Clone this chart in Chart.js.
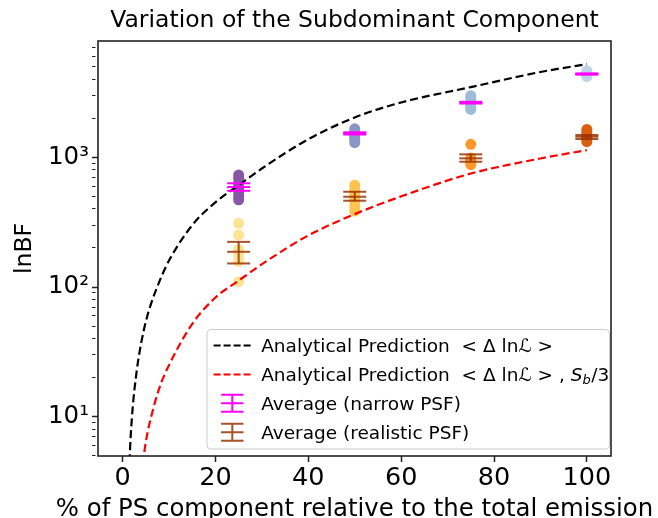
<!DOCTYPE html>
<html>
<head>
<meta charset="utf-8">
<script src="https://cdn.jsdelivr.net/npm/chart.js@4.4.0/dist/chart.umd.min.js"></script>
<style>
  html, body { margin: 0; padding: 0; background: #fff; }
  #wrap { width: 658px; height: 518px; }
</style>
</head>
<body>
<div id="wrap"><canvas id="lnbfChart" width="658" height="518"></canvas></div>
<script>
// values
const curveX = [1.2, 1.5, 2, 3, 4, 5, 6, 8, 10, 15, 20, 25, 30, 40, 50, 60, 75, 90, 100];
const predFull = [1.9, 4.6, 9.8, 22, 37, 54, 72, 112, 160, 300, 450, 610, 820, 1380, 2030, 2650, 3480, 4550, 5240];
const predThird = [null, null, null, null, 3.5, 6.4, 9.5, 17, 25, 52, 83, 112, 150, 250, 365, 500, 750, 980, 1137];

const fractions = [25, 50, 75, 100];
const narrowRuns = [
  [730, 690, 640, 600, 570, 540, 500, 470],
  [1660, 1600, 1540, 1500, 1450, 1380, 1300],
  [2990, 2850, 2700, 2600, 2500, 2400, 2340],
  [4650, 4500, 4400, 4300, 4200]
];
const realisticRuns = [
  [310, 252, 195, 175, 158, 110],
  [610, 560, 520, 490, 460, 420, 385],
  [1260, 990, 950, 910, 880],
  [1640, 1560, 1480, 1420, 1380, 1320]
];
const narrowMean = [590, 1530, 2640, 4390];
const narrowLow = [552, 1500, 2600, 4340];
const narrowHigh = [631, 1560, 2680, 4440];
const realMean = [187, 497, 982, 1442];
const realLow = [152, 463, 925, 1384];
const realHigh = [223, 543, 1055, 1486];

const xTicks = [0, 20, 40, 60, 80, 100];
const yTickValues = [10, 100, 1000];
const yTickText = ['10\u00b9', '10\u00b2', '10\u00b3'];

const chartTitle = 'Variation of the Subdominant Component';
const xTitle = '% of PS component relative to the total emission';
const yTitle = 'lnBF';
const legendText = ['Analytical Prediction  < \u0394 ln\u2112 >', 'Average (narrow PSF)', 'Average (realistic PSF)'];

// colours
const narrowColors = ['#8856a7', '#8c96c6', '#9ebcda', '#bfd3e6'];
const realColors = ['#fee391', '#fec44f', '#fe9929', '#d95f0e'];
const narrowBar = '#ff00ff';
const realBar = 'rgba(153,52,4,0.85)';

Chart.defaults.font.family = '"DejaVu Sans", sans-serif';

function errorBarPoints(mean, low, high) {
  const pts = [];
  fractions.forEach((f, i) => {
    pts.push({x: f, y: low[i]}, {x: f, y: mean[i]}, {x: f, y: high[i]}, {x: f, y: null});
  });
  return pts;
}

function errorBarSet(data, color) {
  return {
    data: data, showLine: true, borderColor: color, borderWidth: 2,
    pointStyle: 'line', pointRadius: 11.5, pointBorderWidth: 2, pointBorderColor: color,
    spanGaps: false
  };
}

function curveSet(values, color) {
  return {
    data: curveX.map((x, i) => ({x: x, y: values[i]})),
    showLine: true, borderColor: color, borderWidth: 2.2, borderDash: [8, 4],
    pointRadius: 0, cubicInterpolationMode: 'monotone', spanGaps: false
  };
}

const datasets = [
  errorBarSet(errorBarPoints(narrowMean, narrowLow, narrowHigh), narrowBar),
  errorBarSet(errorBarPoints(realMean, realLow, realHigh), realBar),
  curveSet(predFull, '#000000'),
  curveSet(predThird, '#ff0000')
];
fractions.forEach((f, i) => {
  datasets.push({
    data: narrowRuns[i].map(v => ({x: f, y: v})),
    backgroundColor: narrowColors[i], borderWidth: 0, pointRadius: 5.5
  });
  datasets.push({
    data: realisticRuns[i].map(v => ({x: f, y: v})),
    backgroundColor: realColors[i], borderWidth: 0, pointRadius: 5.5
  });
});

// title, x label, frame and the legend box inside the axes
const decorations = {
  id: 'decorations',
  afterDraw(chart) {
    const {ctx, chartArea: a} = chart;
    ctx.save();
    ctx.strokeStyle = '#222';
    ctx.lineWidth = 1.6;
    ctx.strokeRect(a.left, a.top, a.right - a.left, a.bottom - a.top);

    ctx.fillStyle = '#000';
    ctx.font = '23.5px "DejaVu Sans"';
    ctx.textAlign = 'center';
    ctx.textBaseline = 'alphabetic';
    ctx.fillText(chartTitle, (a.left + a.right) / 2, 27);
    ctx.font = '24.4px "DejaVu Sans"';
    ctx.fillText(xTitle, (a.left + a.right) / 2, 516);

    // legend
    const bw = 402.5, bh = 119.5;
    const x0 = a.right - 1.5 - bw, y0 = a.bottom - 7 - bh;
    ctx.beginPath();
    ctx.roundRect(x0, y0, bw, bh, 4);
    ctx.fillStyle = 'rgba(255,255,255,0.8)';
    ctx.fill();
    ctx.strokeStyle = '#cccccc';
    ctx.lineWidth = 1;
    ctx.stroke();

    const rows = [0, 1, 2, 3].map(i => y0 + 16 + i * 28.9);
    const tx = x0 + 54.2;
    // dashed handles
    [['#000000', rows[0]], ['#ff0000', rows[1]]].forEach(([c, y]) => {
      ctx.beginPath();
      ctx.setLineDash([7, 3]);
      ctx.strokeStyle = c;
      ctx.lineWidth = 2;
      ctx.moveTo(x0 + 6.6, y);
      ctx.lineTo(x0 + 44, y);
      ctx.stroke();
    });
    ctx.setLineDash([]);
    // errorbar handles
    [[narrowBar, rows[2]], [realBar, rows[3]]].forEach(([c, y]) => {
      const cx = x0 + 25.3;
      ctx.strokeStyle = c;
      ctx.lineWidth = 2;
      ctx.beginPath();
      ctx.moveTo(cx, y - 8.5); ctx.lineTo(cx, y + 8.5);
      [-8.5, 0, 8.5].forEach(d => { ctx.moveTo(cx - 11.2, y + d); ctx.lineTo(cx + 11.2, y + d); });
      ctx.stroke();
    });

    ctx.fillStyle = '#000';
    ctx.textAlign = 'left';
    const base = '18.5px "DejaVu Sans"';
    ctx.font = base;
    ctx.fillText(legendText[0], tx, rows[0] + 6.5);
    let x = tx;
    const first = legendText[0] + ' , ';
    ctx.fillText(first, x, rows[1] + 6.5);
    x += ctx.measureText(first).width;
    ctx.font = 'italic 18.5px "DejaVu Sans"';
    ctx.fillText('S', x, rows[1] + 6.5);
    x += ctx.measureText('S').width;
    ctx.font = 'italic 13px "DejaVu Sans"';
    ctx.fillText('b', x, rows[1] + 10);
    x += ctx.measureText('b').width + 0.5;
    ctx.font = base;
    ctx.fillText('/3', x, rows[1] + 6.5);
    ctx.fillText(legendText[1], tx, rows[2] + 6.5);
    ctx.fillText(legendText[2], tx, rows[3] + 6.5);
    ctx.restore();
  }
};

new Chart(document.getElementById('lnbfChart'), {
  type: 'scatter',
  data: { datasets: datasets },
  options: {
    responsive: false,
    animation: false,
    events: [],
    devicePixelRatio: 1,
    layout: { padding: { top: 41, right: 47, bottom: 0, left: 0 } },
    plugins: { legend: { display: false }, tooltip: { enabled: false } },
    scales: {
      x: {
        type: 'linear', min: -5.3, max: 105.2,
        afterBuildTicks: s => { s.ticks = xTicks.map(v => ({value: v})); },
        afterFit: s => { s.height = 62; },
        border: { display: false },
        grid: { drawOnChartArea: false, drawTicks: true, tickLength: 6, tickColor: '#222', tickWidth: 1.5 },
        ticks: { color: '#000', font: { size: 25.5 }, padding: 1, maxRotation: 0, autoSkip: false },
        title: { display: false }
      },
      y: {
        type: 'logarithmic', min: 4.98, max: 7890,
        afterBuildTicks: s => {
          const t = [];
          [1, 10, 100, 1000].forEach(d => {
            for (let m = 1; m <= 9; m++) {
              const v = m * d;
              if (v >= s.min && v <= s.max) t.push({value: v, major: m === 1});
            }
          });
          s.ticks = t;
        },
        afterFit: s => { s.width = 98; },
        border: { display: false },
        grid: {
          drawOnChartArea: false, drawTicks: true, tickLength: 6, tickColor: '#222',
          tickWidth: c => (yTickValues.includes(c.tick && c.tick.value) ? 1.5 : 1),
          tickBorderDash: c => (yTickValues.includes(c.tick && c.tick.value) ? [] : [3.5, 20])
        },
        ticks: {
          color: '#000', font: { size: 24.5 }, padding: 3, autoSkip: false,
          callback: v => { const k = yTickValues.indexOf(v); return k >= 0 ? yTickText[k] : ''; }
        },
        title: { display: true, text: yTitle, color: '#000', font: { size: 23.5, lineHeight: 1 }, padding: { top: 13, bottom: 0 } }
      }
    }
  },
  plugins: [decorations]
});
</script>
</body>
</html>
